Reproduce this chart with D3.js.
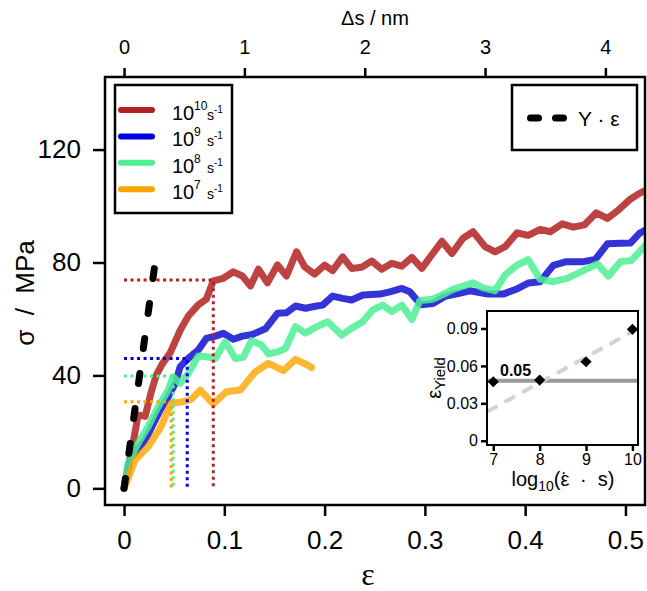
<!DOCTYPE html>
<html>
<head>
<meta charset="utf-8">
<title>Stress-strain curves at several strain rates</title>
<script src="https://d3js.org/d3.v7.min.js"></script>
<style>
    body { margin: 0; background: #fff; }
    svg { font-family: "Liberation Sans", Arial, sans-serif; }
    .axis path { display: none; }
    .axis line { stroke: #000; stroke-width: 2.5; }
    .axis text { fill: #000; }
</style>
</head>
<body>
<svg id="chart" width="647" height="591"></svg>
<script>
// ---- data ----
var strain10 = [0, 0.008, 0.014, 0.021, 0.027, 0.032, 0.038, 0.046, 0.056, 0.064, 0.074, 0.082, 0.089, 0.099, 0.109, 0.118, 0.126, 0.134, 0.143, 0.153, 0.162, 0.172, 0.180, 0.190, 0.200, 0.208, 0.218, 0.227, 0.237, 0.247, 0.257, 0.267, 0.277, 0.287, 0.297, 0.306, 0.317, 0.327, 0.338, 0.348, 0.360, 0.370, 0.380, 0.392, 0.403, 0.415, 0.425, 0.437, 0.448, 0.459, 0.471, 0.482, 0.493, 0.504, 0.514, 0.520];
var stress10 = [0, 14, 26, 25.5, 34, 40, 44, 48, 56, 61, 65, 67, 73.5, 74.4, 76.7, 75.2, 71.7, 77.6, 72.8, 79.1, 75.2, 83.8, 78.5, 75.9, 79.1, 77.1, 82, 77.9, 78.3, 80.5, 77.6, 79.7, 78.7, 81.8, 77.9, 82.3, 87.5, 83.2, 88.6, 90.9, 85.6, 83.8, 85.6, 90.5, 89.6, 91.7, 90.9, 93.7, 92.5, 93.3, 97.6, 95.6, 98.6, 102.2, 104.5, 105.5];

var strain9 = [0, 0.006, 0.012, 0.021, 0.027, 0.036, 0.044, 0.051, 0.056, 0.064, 0.074, 0.082, 0.091, 0.099, 0.109, 0.118, 0.128, 0.141, 0.153, 0.162, 0.171, 0.181, 0.192, 0.198, 0.208, 0.218, 0.227, 0.238, 0.255, 0.265, 0.277, 0.285, 0.296, 0.308, 0.320, 0.333, 0.345, 0.363, 0.378, 0.391, 0.403, 0.415, 0.428, 0.441, 0.458, 0.470, 0.482, 0.495, 0.505, 0.514, 0.520];
var stress9 = [0, 10.6, 13, 17.1, 21.3, 27.7, 32.4, 37.2, 43.1, 46, 49, 53.1, 53.9, 54.9, 52.8, 53.9, 54.5, 56.5, 62, 62.2, 64.6, 63.8, 64.6, 64.9, 68.1, 67.3, 66.7, 68.5, 68.8, 69.6, 70.8, 69.6, 65, 65.5, 68, 69, 70, 68.8, 68.8, 70.5, 72.7, 73.2, 79, 80.3, 80.3, 81.1, 86.6, 86.8, 86.9, 90.3, 91.5];

var strain8 = [0, 0.004, 0.014, 0.024, 0.034, 0.044, 0.049, 0.056, 0.064, 0.074, 0.082, 0.091, 0.101, 0.111, 0.119, 0.127, 0.137, 0.144, 0.154, 0.161, 0.171, 0.181, 0.192, 0.203, 0.217, 0.227, 0.238, 0.248, 0.258, 0.267, 0.277, 0.287, 0.295, 0.308, 0.320, 0.328, 0.348, 0.358, 0.370, 0.380, 0.392, 0.403, 0.415, 0.428, 0.442, 0.458, 0.472, 0.483, 0.495, 0.506, 0.517, 0.520];
var stress8 = [0, 8.9, 15.9, 21.8, 28.9, 34.8, 39.5, 37.2, 40.7, 46.9, 46.6, 46, 51.9, 46, 46.4, 52.3, 50.8, 47.6, 48.4, 49.6, 57.3, 55, 57.2, 59, 54.3, 56.7, 59, 63.2, 64.9, 62.6, 64.9, 59.8, 66.5, 67, 69, 70.5, 72.8, 71, 70, 75.6, 79.1, 81, 74, 73.2, 74.4, 77.1, 79.5, 75.2, 80.3, 80.7, 85, 86];

var strain7 = [0, 0.011, 0.024, 0.036, 0.047, 0.059, 0.067, 0.076, 0.089, 0.102, 0.116, 0.131, 0.144, 0.159, 0.171, 0.183, 0.187];
var stress7 = [0, 10, 14.7, 21.3, 30.1, 30.7, 31.5, 34.8, 29.9, 34.2, 34.8, 41.3, 44.3, 41.7, 45.7, 43.7, 42.8];

var rateExponents = ["10", "9", "8", "7"];
var lineColors = ["rgba(178,34,34,0.85)", "rgba(0,0,205,0.8)", "rgba(78,238,148,0.85)", "rgba(255,165,0,0.8)"];
var keyColors = ["#b22222", "#0000e0", "#4eee94", "#ffa500"];

// yield points (strain, stress) per rate, same order as above
var yieldStrain = [0.089, 0.063, 0.049, 0.047];
var yieldStress = [73.8, 46, 39.8, 30.7];

// elastic line sigma = Y * eps
var youngModulus = 2580;
var elasticEnd = 0.031;

// inset: yield strain vs log10 rate
var logRate = [7, 8, 9, 10];
var insetYield = [0.0473, 0.0486, 0.0633, 0.0893];
var refYield = 0.048;
var fitSlope = 0.0205, fitIntercept = -0.1175;

var strainTicks = [0, 0.1, 0.2, 0.3, 0.4, 0.5];
var stressTicks = [0, 40, 80, 120];
var nmTicks = [0, 1, 2, 3, 4];
var strainPerNm = 0.12;
var insetXTicks = [7, 8, 9, 10];
var insetYTicks = [0, 0.03, 0.06, 0.09];

// ---- scales ----
var pLeft = 105, pRight = 645, pTop = 77, pBottom = 505;
var svg = d3.select("#chart");

var x = d3.scaleLinear().domain([-0.019, 0.5195]).range([pLeft, pRight]);
var y = d3.scaleLinear().domain([-5.9, 145.7]).range([pBottom, pTop]);
var xTop = d3.scaleLinear()
    .domain(x.domain().map(function(d) { return d / strainPerNm; }))
    .range([pLeft, pRight]);

svg.append("clipPath").attr("id", "plotclip")
    .append("rect").attr("x", pLeft).attr("y", pTop)
    .attr("width", pRight - pLeft).attr("height", pBottom - pTop);

// ---- axes ----
var gx = svg.append("g").attr("class", "axis")
    .attr("transform", "translate(0," + pBottom + ")")
    .call(d3.axisBottom(x).tickValues(strainTicks).tickSize(11).tickPadding(15)
        .tickFormat(function(d) { return d; }));
gx.selectAll("text").attr("font-size", 26).attr("font-family", "Liberation Sans, Arial, sans-serif");

var gy = svg.append("g").attr("class", "axis")
    .attr("transform", "translate(" + pLeft + ",0)")
    .call(d3.axisLeft(y).tickValues(stressTicks).tickSize(12).tickPadding(12));
gy.selectAll("text").attr("font-size", 26).attr("font-family", "Liberation Sans, Arial, sans-serif");

var gt = svg.append("g").attr("class", "axis")
    .attr("transform", "translate(0," + pTop + ")")
    .call(d3.axisTop(xTop).tickValues(nmTicks).tickSize(9).tickPadding(14)
        .tickFormat(d3.format("d")));
gt.selectAll("text").attr("font-size", 20).attr("font-family", "Liberation Sans, Arial, sans-serif");

// axis titles
svg.append("text")
    .attr("x", (pLeft + pRight) / 2).attr("y", 25)
    .attr("text-anchor", "middle").attr("font-size", 20)
    .text("\u0394s / nm");

svg.append("text")
    .attr("x", 368).attr("y", 585)
    .attr("text-anchor", "middle").attr("font-size", 32)
    .attr("font-family", "Liberation Serif, Times New Roman, serif")
    .text("\u03b5");

svg.append("text")
    .attr("transform", "translate(34," + ((pTop + pBottom) / 2 + 2) + ") rotate(-90)")
    .attr("text-anchor", "middle").attr("font-size", 26)
    .text("\u03c3\u00a0\u00a0/\u00a0\u00a0MPa");

// ---- curves ----
var series = [
    { strain: strain10, stress: stress10 },
    { strain: strain9, stress: stress9 },
    { strain: strain8, stress: stress8 },
    { strain: strain7, stress: stress7 }
];

var line = d3.line()
    .x(function(d) { return x(d[0]); })
    .y(function(d) { return y(d[1]); });

var plot = svg.append("g").attr("clip-path", "url(#plotclip)");

series.forEach(function(s, i) {
    plot.append("path")
        .datum(d3.zip(s.strain, s.stress))
        .attr("d", line)
        .attr("fill", "none")
        .attr("stroke", lineColors[i])
        .attr("stroke-width", 7)
        .attr("stroke-linejoin", "round")
        .attr("stroke-linecap", "round");
});

// dotted yield markers
yieldStrain.forEach(function(e, i) {
    var s = yieldStress[i];
    plot.append("path")
        .datum([[0, s], [e, s], [e, 0]])
        .attr("d", line)
        .attr("fill", "none")
        .attr("stroke", keyColors[i])
        .attr("stroke-width", 3)
        .attr("stroke-dasharray", "3,3.5");
});

// elastic line
plot.append("path")
    .datum([[0, 0], [elasticEnd, youngModulus * elasticEnd]])
    .attr("d", line)
    .attr("fill", "none")
    .attr("stroke", "#000")
    .attr("stroke-width", 7)
    .attr("stroke-linecap", "round")
    .attr("stroke-dasharray", "10,25.3");

// plot frame
svg.append("rect")
    .attr("x", pLeft).attr("y", pTop)
    .attr("width", pRight - pLeft).attr("height", pBottom - pTop)
    .attr("fill", "none").attr("stroke", "#000").attr("stroke-width", 2.5);

// ---- legend: strain rates ----
var legend = svg.append("g");
legend.append("rect")
    .attr("x", 115).attr("y", 85).attr("width", 117).attr("height", 128)
    .attr("fill", "#fff").attr("stroke", "#000").attr("stroke-width", 2.5);

var item = legend.selectAll(".item")
    .data(rateExponents)
    .enter().append("g")
    .attr("class", "item")
    .attr("transform", function(d, i) { return "translate(0," + (110 + i * 26.4) + ")"; });

item.append("line")
    .attr("x1", 121).attr("x2", 152)
    .attr("stroke", function(d, i) { return keyColors[i]; })
    .attr("stroke-width", 6).attr("stroke-linecap", "round");

item.append("text").attr("x", 172).attr("y", 10).attr("font-size", 20).text("10");
item.append("text").attr("x", 194).attr("y", 0).attr("font-size", 12).text(function(d) { return d; });
item.append("text").attr("x", 207).attr("y", 10).attr("font-size", 14).text("s");
item.append("text").attr("x", 214).attr("y", 3).attr("font-size", 10).text("-1");

// ---- legend: elastic line ----
var key2 = svg.append("g");
key2.append("rect")
    .attr("x", 512).attr("y", 85).attr("width", 125).attr("height", 65)
    .attr("fill", "#fff").attr("stroke", "#000").attr("stroke-width", 2.5);
key2.append("line")
    .attr("x1", 530.5).attr("x2", 564).attr("y1", 118).attr("y2", 118)
    .attr("stroke", "#000").attr("stroke-width", 7)
    .attr("stroke-linecap", "round").attr("stroke-dasharray", "8,17");
key2.append("text")
    .attr("x", 578).attr("y", 126).attr("font-size", 21)
    .text("Y \u00b7 \u03b5");

// ---- inset ----
var ix = d3.scaleLinear().domain([6.865, 10.12]).range([487, 638]);
var iy = d3.scaleLinear().domain([-0.0034, 0.104]).range([445, 311]);
var inset = svg.append("g");

inset.append("rect")
    .attr("x", 487).attr("y", 311).attr("width", 151).attr("height", 134)
    .attr("fill", "#fff");

var ixa = inset.append("g").attr("class", "axis")
    .attr("transform", "translate(0,445)")
    .call(d3.axisBottom(ix).tickValues(insetXTicks).tickSize(6).tickPadding(3)
        .tickFormat(d3.format("d")));
ixa.selectAll("text").attr("font-size", 16).attr("font-family", "Liberation Sans, Arial, sans-serif");
ixa.selectAll("line").attr("stroke-width", 2);

var iya = inset.append("g").attr("class", "axis")
    .attr("transform", "translate(487,0)")
    .call(d3.axisLeft(iy).tickValues(insetYTicks).tickSize(6).tickPadding(3)
        .tickFormat(function(d) { return d === 0 ? "0" : d3.format(".2f")(d); }));
iya.selectAll("text").attr("font-size", 16).attr("font-family", "Liberation Sans, Arial, sans-serif");
iya.selectAll("line").attr("stroke-width", 2);

inset.append("clipPath").attr("id", "insetclip")
    .append("rect").attr("x", 487).attr("y", 311).attr("width", 151).attr("height", 134);

var ig = inset.append("g").attr("clip-path", "url(#insetclip)");
ig.append("line")
    .attr("x1", ix(6.865)).attr("x2", ix(10.12))
    .attr("y1", iy(refYield)).attr("y2", iy(refYield))
    .attr("stroke", "#999").attr("stroke-width", 4);

ig.append("line")
    .attr("x1", ix(6.865)).attr("y1", iy(fitIntercept + fitSlope * 6.865))
    .attr("x2", ix(10.12)).attr("y2", iy(fitIntercept + fitSlope * 10.12))
    .attr("stroke", "#d3d3d3").attr("stroke-width", 4)
    .attr("stroke-dasharray", "12,8");

inset.selectAll(".pt")
    .data(d3.zip(logRate, insetYield))
    .enter().append("path")
    .attr("class", "pt")
    .attr("d", d3.symbol(d3.symbolSquare, 62))
    .attr("transform", function(d) { return "translate(" + ix(d[0]) + "," + iy(d[1]) + ") rotate(45)"; })
    .attr("fill", "#000");

inset.append("text")
    .attr("x", 500).attr("y", 376).attr("font-size", 16).attr("font-weight", "bold")
    .text("0.05");

inset.append("rect")
    .attr("x", 487).attr("y", 311).attr("width", 151).attr("height", 134)
    .attr("fill", "none").attr("stroke", "#000").attr("stroke-width", 2);

var ixl = inset.append("text")
    .attr("x", 563).attr("y", 486).attr("text-anchor", "middle").attr("font-size", 20);
ixl.append("tspan").text("log");
ixl.append("tspan").attr("font-size", 14).attr("dy", 5).text("10");
ixl.append("tspan").attr("dy", -5).text("(\u03b5");
ixl.append("tspan").attr("dx", -8).attr("dy", 1).text("\u02d9");
ixl.append("tspan").attr("dx", 1).attr("dy", -1).text("\u00a0\u00a0\u00b7\u00a0\u00a0s)");

var iyl = inset.append("text")
    .attr("transform", "translate(441,378) rotate(-90)")
    .attr("text-anchor", "middle").attr("font-size", 20);
iyl.append("tspan").text("\u03b5");
iyl.append("tspan").attr("font-size", 15).attr("dy", 4).text("Yield");
</script>
</body>
</html>
